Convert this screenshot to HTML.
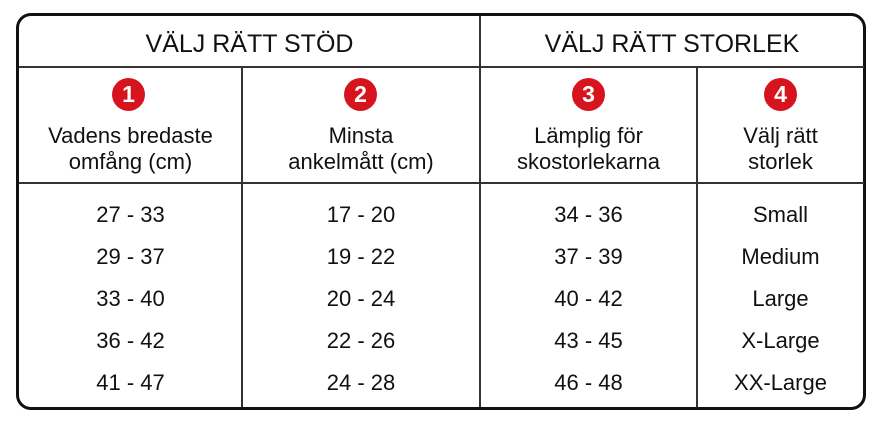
<!DOCTYPE html>
<html><head><meta charset="utf-8"><style>
body{margin:0;background:#fff;width:888px;height:433px;overflow:hidden;font-family:"Liberation Sans",sans-serif;color:#111}
.box{position:absolute;left:16px;top:13px;width:844px;height:391px;border:3.5px solid #111;border-radius:15px}
.h{position:absolute;background:#333;height:1.5px}
.v{position:absolute;background:#333;width:1.5px}
.t{position:absolute;text-align:center;font-size:22px;line-height:26px}
.c{position:absolute;width:33px;height:33px;border-radius:50%;background:#d7141e;color:#fff;font-weight:bold;font-size:23px;line-height:33px;text-align:center}
</style></head><body>
<div class="box"></div>
<div class="h" style="left:19px;top:66px;width:845px"></div>
<div class="h" style="left:19px;top:182px;width:845px"></div>
<div class="v" style="left:241px;top:67px;height:340px"></div>
<div class="v" style="left:479px;top:16px;height:391px"></div>
<div class="v" style="left:696px;top:67px;height:340px"></div>
<div class="t" style="left:19px;width:461px;top:31px;font-size:25px">VÄLJ RÄTT STÖD</div>
<div class="t" style="left:480px;width:384px;top:31px;font-size:25px">VÄLJ RÄTT STORLEK</div>
<div class="c" style="left:112px;top:78px">1</div>
<div class="c" style="left:344px;top:78px">2</div>
<div class="c" style="left:572px;top:78px">3</div>
<div class="c" style="left:764px;top:78px">4</div>
<div class="t" style="left:19px;width:223px;top:123px">Vadens bredaste<br>omfång (cm)</div>
<div class="t" style="left:242px;width:238px;top:123px">Minsta<br>ankelmått (cm)</div>
<div class="t" style="left:480px;width:217px;top:123px">Lämplig för<br>skostorlekarna</div>
<div class="t" style="left:697px;width:167px;top:123px">Välj rätt<br>storlek</div>
<div class="t" style="left:19px;width:223px;top:194px;line-height:42px">27 - 33<br>29 - 37<br>33 - 40<br>36 - 42<br>41 - 47</div>
<div class="t" style="left:242px;width:238px;top:194px;line-height:42px">17 - 20<br>19 - 22<br>20 - 24<br>22 - 26<br>24 - 28</div>
<div class="t" style="left:480px;width:217px;top:194px;line-height:42px">34 - 36<br>37 - 39<br>40 - 42<br>43 - 45<br>46 - 48</div>
<div class="t" style="left:697px;width:167px;top:194px;line-height:42px">Small<br>Medium<br>Large<br>X-Large<br>XX-Large</div>
</body></html>
